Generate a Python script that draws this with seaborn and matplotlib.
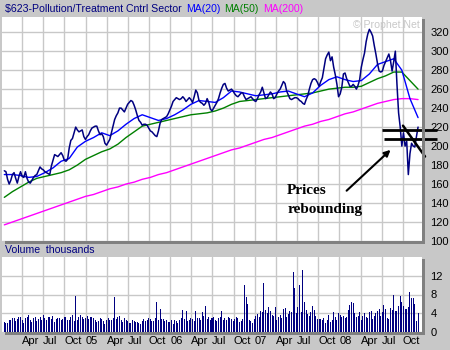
import pandas as pd
import matplotlib
matplotlib.use("Agg")
import matplotlib.pyplot as plt
import matplotlib.dates as mdates
from matplotlib.patches import Rectangle
import seaborn as sns

sns.set_theme(style="white")
plt.rcParams['font.family'] = ['Liberation Sans', 'DejaVu Sans']

# Weekly closes of the sector index, starting mid-January 2004
start = "2004-01-16"
close = [
    174, 173, 165, 160, 164, 170, 172, 166, 161, 168, 173, 168, 167, 173, 166, 162,
    161, 164, 167, 169, 170, 174, 178, 176, 175, 173, 172, 171, 170, 179, 185, 191,
    190, 189, 191, 193, 190, 185, 184, 186, 198, 206, 208, 214, 220, 217, 215, 216,
    217, 210, 207, 210, 212, 216, 219, 220, 221, 221, 216, 212, 213, 210, 203, 201,
    204, 207, 214, 221, 228, 232, 235, 240, 240, 238, 236, 240, 244, 246, 248, 247,
    243, 238, 232, 227, 225, 222, 223, 223, 222, 219, 216, 215, 213, 211, 210, 216,
    224, 228, 229, 230, 231, 234, 238, 242, 247, 249, 251, 250, 249, 250, 252, 250,
    247, 249, 251, 249, 246, 252, 259, 256, 248, 246, 245, 243, 245, 250, 246, 239,
    237, 240, 243, 246, 250, 256, 261, 265, 266, 261, 258, 259, 260, 258, 255, 253,
    252, 254, 256, 256, 252, 249, 250, 251, 252, 250, 248, 247, 250, 254, 257, 262,
    256, 250, 251, 254, 257, 255, 250, 251, 255, 258, 260, 264, 268, 266, 258, 254,
    250, 249, 250, 251, 251, 250, 248, 247, 245, 244, 249, 253, 260, 266, 270, 271,
    270, 267, 263, 268, 272, 282, 292, 296, 299, 290, 294, 283, 275, 265, 252, 255,
    262, 276, 277, 271, 267, 263, 263, 265, 263, 260, 264, 270, 283, 291, 298, 310,
    318, 323, 320, 316, 306, 297, 287, 279, 278, 279, 285, 289, 293, 297, 290, 279,
    289, 300, 265, 235, 220, 200, 214, 200, 205, 170, 192, 203, 200, 199, 210, 220,
]

# Moving averages, sampled every fifth week
ma20 = [
    170, 170, 169, 167, 168, 172, 177, 184, 187, 199, 205, 209, 214, 211, 216, 223,
    229, 233, 230, 227, 229, 233, 238, 244, 248, 247, 246, 251, 258, 257, 255, 253,
    254, 255, 257, 258, 255, 252, 256, 264, 270, 273, 270, 268, 269, 276, 286, 289,
    292, 280, 250, 230,
]
ma50 = [
    146, 152, 157, 162, 166, 168, 170, 172, 175, 180, 186, 190, 194, 197, 202, 209,
    215, 221, 223, 225, 227, 229, 231, 233, 234, 235, 237, 240, 244, 247, 248, 249,
    250, 251, 252, 253, 254, 255, 256, 258, 260, 261, 262, 262, 263, 267, 271, 274,
    278, 278, 269, 260,
]
ma200 = [
    117, 120, 123, 126, 129, 132, 135, 138, 141, 144, 147, 149, 152, 155, 157, 160,
    162, 165, 167, 170, 172, 175, 178, 181, 184, 187, 190, 193, 196, 198, 201, 204,
    207, 209, 212, 215, 218, 221, 223, 226, 228, 231, 234, 236, 239, 242, 245, 247,
    249, 250, 250, 249,
]

# Weekly volume, thousands
volume = [
    2.2, 1.9, 2.0, 2.6, 2.6, 3.0, 3.0, 2.4, 2.7, 3.2, 3.2, 2.6, 2.0, 3.0, 3.3, 3.6,
    2.6, 2.2, 3.0, 3.3, 2.4, 2.8, 3.1, 2.5, 3.6, 2.9, 2.5, 3.3, 3.2, 2.7, 3.4, 2.2,
    2.7, 3.0, 3.0, 2.5, 2.8, 3.3, 3.2, 2.6, 2.5, 3.1, 3.6, 2.4, 7.6, 2.5, 3.3, 3.6,
    3.2, 2.8, 3.0, 3.4, 2.7, 3.2, 3.2, 2.9, 2.6, 2.2, 2.4, 2.9, 2.8, 2.3, 1.8, 2.6,
    3.0, 2.6, 2.5, 3.0, 7.4, 2.8, 3.2, 3.4, 2.6, 2.2, 3.0, 2.5, 2.4, 2.0, 2.0, 2.6,
    2.4, 2.1, 2.2, 1.9, 1.7, 2.3, 2.8, 2.4, 2.6, 3.0, 2.8, 2.3, 2.4, 2.9, 6.5, 2.6,
    5.0, 2.8, 2.7, 2.3, 2.5, 2.1, 2.2, 2.6, 1.8, 2.5, 2.3, 2.0, 2.6, 3.0, 4.6, 2.7,
    4.5, 2.4, 2.6, 3.0, 2.8, 2.4, 4.5, 2.9, 3.0, 2.6, 4.2, 3.4, 5.5, 2.8, 3.2, 2.5,
    2.9, 3.3, 2.6, 2.3, 2.9, 3.2, 4.4, 2.6, 3.0, 2.5, 3.3, 2.9, 2.8, 2.4, 2.7, 3.1,
    3.0, 2.2, 2.4, 2.8, 10.0, 7.5, 6.0, 2.5, 2.3, 2.0, 2.8, 3.4, 3.8, 3.2, 4.5, 4.2,
    10.5, 4.8, 4.0, 5.3, 4.5, 3.6, 3.4, 5.3, 2.6, 3.2, 3.7, 2.9, 4.9, 5.1, 3.2, 3.8,
    4.4, 4.2, 12.8, 9.3, 4.0, 5.3, 10.0, 4.2, 13.3, 6.5, 4.6, 3.8, 3.5, 4.3, 5.6, 4.8,
    3.5, 2.7, 2.7, 2.8, 2.6, 2.9, 2.0, 2.6, 3.7, 2.1, 2.6, 4.3, 3.3, 2.5, 4.0, 3.6,
    3.3, 3.5, 2.9, 3.3, 4.6, 5.8, 6.3, 6.2, 4.0, 3.1, 3.5, 4.3, 2.6, 3.4, 4.0, 3.3,
    3.0, 4.3, 4.4, 2.7, 3.5, 4.0, 4.5, 5.0, 3.5, 4.2, 5.8, 4.9, 3.0, 2.7, 5.2, 4.8,
    7.8, 4.5, 4.5, 5.5, 7.6, 6.5, 5.5, 5.0, 5.0, 5.3, 8.6, 7.3, 7.2, 6.0, 2.4, 4.0,
]

price_ticks = list(range(100, 321, 20))
volume_ticks = [0, 4, 8, 12]

BG = "#c8c8c8"
GRID = "#c8c8c8"
SHADOW = "#808080"
NAVY = "#000080"
BLUE = "#0000ff"
GREEN = "#008000"
MAGENTA = "#ff00ff"

weeks = pd.date_range(start, periods=len(close), freq="7D")
price_df = pd.DataFrame({"t": mdates.date2num(weeks), "close": close})
ma_df = pd.DataFrame({"t": mdates.date2num(weeks[::5]), "ma20": ma20,
                      "ma50": ma50, "ma200": ma200})
vol_df = pd.DataFrame({"t": mdates.date2num(weeks[:len(volume)]),
                       "volume": volume})

W, H = 450, 350
fig = plt.figure(figsize=(W / 100, H / 100), dpi=100, facecolor=BG)


def box(left, top, right, bottom):
    return [left / W, 1 - bottom / H, (right - left) / W, (bottom - top) / H]


def shade(left, top, right, bottom, color=SHADOW):
    fig.add_artist(Rectangle((left / W, 1 - bottom / H), (right - left) / W,
                             (bottom - top) / H, transform=fig.transFigure,
                             facecolor=color, edgecolor="none", zorder=0.5))


ax = fig.add_axes(box(2, 17, 422, 241))
axv = fig.add_axes(box(2, 257, 422, 332))

# shadows around both panels
shade(422, 19, 425, 244)
shade(5, 241, 425, 244)
shade(422, 259, 425, 335)
shade(5, 332, 425, 335)

# price panel
sns.lineplot(data=ma_df, x="t", y="ma200", ax=ax, color=MAGENTA, lw=1)
sns.lineplot(data=ma_df, x="t", y="ma50", ax=ax, color=GREEN, lw=1)
sns.lineplot(data=ma_df, x="t", y="ma20", ax=ax, color=BLUE, lw=1)
sns.lineplot(data=price_df, x="t", y="close", ax=ax, color=NAVY, lw=1.1)

# volume panel
sns.barplot(data=vol_df, x="t", y="volume", ax=axv, native_scale=True,
            color=NAVY, saturation=1, width=0.62, errorbar=None, linewidth=0)
for bar in axv.patches:
    bar.set_antialiased(False)

xmin = mdates.date2num(pd.Timestamp("2004-01-06"))
xmax = mdates.date2num(pd.Timestamp("2008-12-22"))
quarters = pd.date_range("2004-04-01", "2008-10-01", freq="QS")
qpos = mdates.date2num(quarters)
qlab = [d.strftime("%y") if d.month == 1 else d.strftime("%b") for d in quarters]

for a, ticks, lim in ((ax, price_ticks, (100, 336)), (axv, volume_ticks, (0, 16))):
    a.set_facecolor("white")
    a.set_xlim(xmin, xmax)
    a.set_ylim(*lim)
    a.set_xticks(qpos)
    a.set_yticks(ticks)
    a.yaxis.tick_right()
    a.grid(True, color=GRID, lw=1)
    a.set_axisbelow(True)
    for s in a.spines.values():
        s.set_visible(False)
    a.set_xlabel("")
    a.set_ylabel("")
    a.tick_params(length=0, labelsize=8, colors="black", pad=6)

ax.set_xticklabels([])
axv.set_xticklabels(qlab, ha="left")
axv.tick_params(axis="x", pad=3)

# title bar: series name followed by the legend of averages
prev = fig.text(5 / W, 1 - 9 / H, "$623-Pollution/Treatment Cntrl Sector",
                color=NAVY, fontsize=7.6, va="center", ha="left")
for label, col in (("MA(20)", BLUE), ("MA(50)", GREEN), ("MA(200)", MAGENTA)):
    prev = ax.annotate(label, xy=(1, 0.5), xycoords=prev, xytext=(3, 0),
                       textcoords="offset points", color=col, fontsize=7.6,
                       va="center", ha="left", annotation_clip=False)

fig.text(5 / W, 1 - 250 / H, "Volume  thousands", color=NAVY, fontsize=7.6,
         va="center", ha="left")
ax.text(0.995, 0.985, "\u00a9 Prophet.Net", transform=ax.transAxes, ha="right",
        va="top", color="#c8c8c8", fontsize=7.6)


# hand-drawn markup: support levels, trend line and arrow
def when(s):
    return mdates.date2num(pd.Timestamp(s))


ax.plot([when("2008-07-01"), when("2009-02-24")], [217.4, 217.4], color="black",
        lw=2, clip_on=False, solid_capstyle="butt")
ax.plot([when("2008-07-10"), when("2009-02-26")], [207.6, 207.6], color="black",
        lw=2, clip_on=False, solid_capstyle="butt")
ax.plot([when("2008-10-01"), when("2009-01-04")], [221.5, 189], color="black",
        lw=1.8, clip_on=False)
ax.annotate("", xy=(when("2008-08-17"), 198), xytext=(when("2008-01-23"), 151),
            arrowprops=dict(arrowstyle="-|>", color="black", lw=1.5,
                            mutation_scale=9))
ax.text(when("2007-05-20"), 153, "Prices", family=["Liberation Serif"],
        fontweight="bold", fontsize=11, va="center", ha="left", color="black")
ax.text(when("2007-05-20"), 133, "rebounding", family=["Liberation Serif"],
        fontweight="bold", fontsize=11, va="center", ha="left", color="black")

fig.savefig("out.png", dpi=100, facecolor=BG)
